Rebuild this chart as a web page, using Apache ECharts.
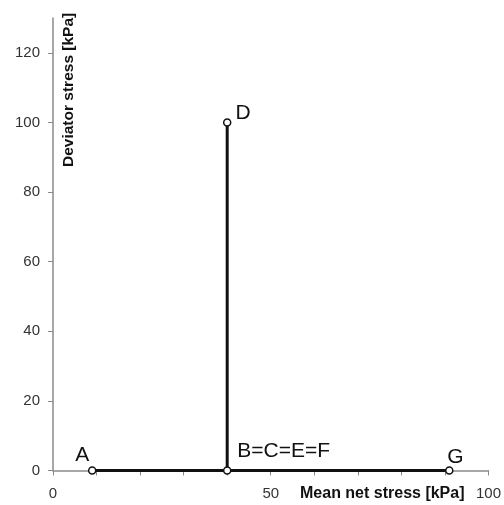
<!DOCTYPE html>
<html>
<head>
<meta charset="utf-8">
<style>
  html, body { margin: 0; padding: 0; background: #fff; }
  #chart { width: 504px; height: 505px; }
</style>
<script src="https://cdn.jsdelivr.net/npm/echarts@6/dist/echarts.min.js"></script>
</head>
<body>
<div id="chart"></div>
<script>
// stress path points
const pointNames = ['A', 'B=C=E=F', 'D', '', 'G']
const meanNetStress = [9, 40, 40, 40, 91]
const deviatorStress = [0, 0, 100, 0, 0]
const xLabelValues = [0, 50, 100]
const yTickValues = [0, 20, 40, 60, 80, 100, 120]

// label placement per point (offset from marker)
const labelOffsets = {
  'A': [-10, 4.5],
  'B=C=E=F': [56.5, 0],
  'D': [16, 10.5],
  'G': [6, 6]
}

const chart = echarts.init(document.getElementById('chart'), null, { renderer: 'canvas' })

const data = meanNetStress.map((x, i) => {
  const name = pointNames[i]
  return {
    value: [x, deviatorStress[i]],
    name: name,
    symbolSize: name ? 7 : 0,
    label: {
      show: !!name,
      position: 'top',
      offset: labelOffsets[name] || [0, 0],
      formatter: name
    }
  }
})

const option = {
  animation: false,
  grid: {
    left: 53,
    right: 15,
    top: 18,
    bottom: 34.5
  },
  xAxis: {
    type: 'value',
    min: 0,
    max: 100,
    interval: 10,
    axisLine: { lineStyle: { color: '#8a8a8a', width: 1.5 } },
    axisTick: { length: 5, lineStyle: { color: '#8a8a8a' } },
    splitLine: { show: false },
    axisLabel: {
      customValues: xLabelValues,
      margin: 16,
      color: '#333',
      fontSize: 15,
      fontFamily: 'Liberation Sans'
    }
  },
  yAxis: {
    type: 'value',
    min: 0,
    max: 130,
    interval: 10,
    axisLine: { show: true, lineStyle: { color: '#8a8a8a', width: 1.5 } },
    axisTick: { show: true, inside: false, length: 5, customValues: yTickValues, lineStyle: { color: '#8a8a8a' } },
    splitLine: { show: false },
    axisLabel: {
      customValues: yTickValues,
      margin: 13,
      color: '#333',
      fontSize: 15,
      fontFamily: 'Liberation Sans'
    }
  },
  graphic: [
    {
      type: 'text',
      left: 300,
      top: 486,
      style: {
        text: 'Mean net stress [kPa]',
        font: 'bold 16px "Liberation Sans"',
        fill: '#111'
      }
    },
    {
      type: 'text',
      x: 61,
      y: 167,
      rotation: Math.PI / 2,
      style: {
        text: 'Deviator stress [kPa]',
        font: 'bold 15.5px "Liberation Sans"',
        fill: '#111'
      }
    }
  ],
  series: [
    {
      type: 'line',
      data: data,
      symbol: 'circle',
      showAllSymbol: true,
      itemStyle: { color: '#fff', borderColor: '#111', borderWidth: 1.5 },
      lineStyle: { color: '#111', width: 3 },
      label: {
        color: '#111',
        fontSize: 21,
        fontFamily: 'Liberation Sans'
      },
      emphasis: { disabled: true }
    }
  ]
}

chart.setOption(option)
</script>
</body>
</html>
